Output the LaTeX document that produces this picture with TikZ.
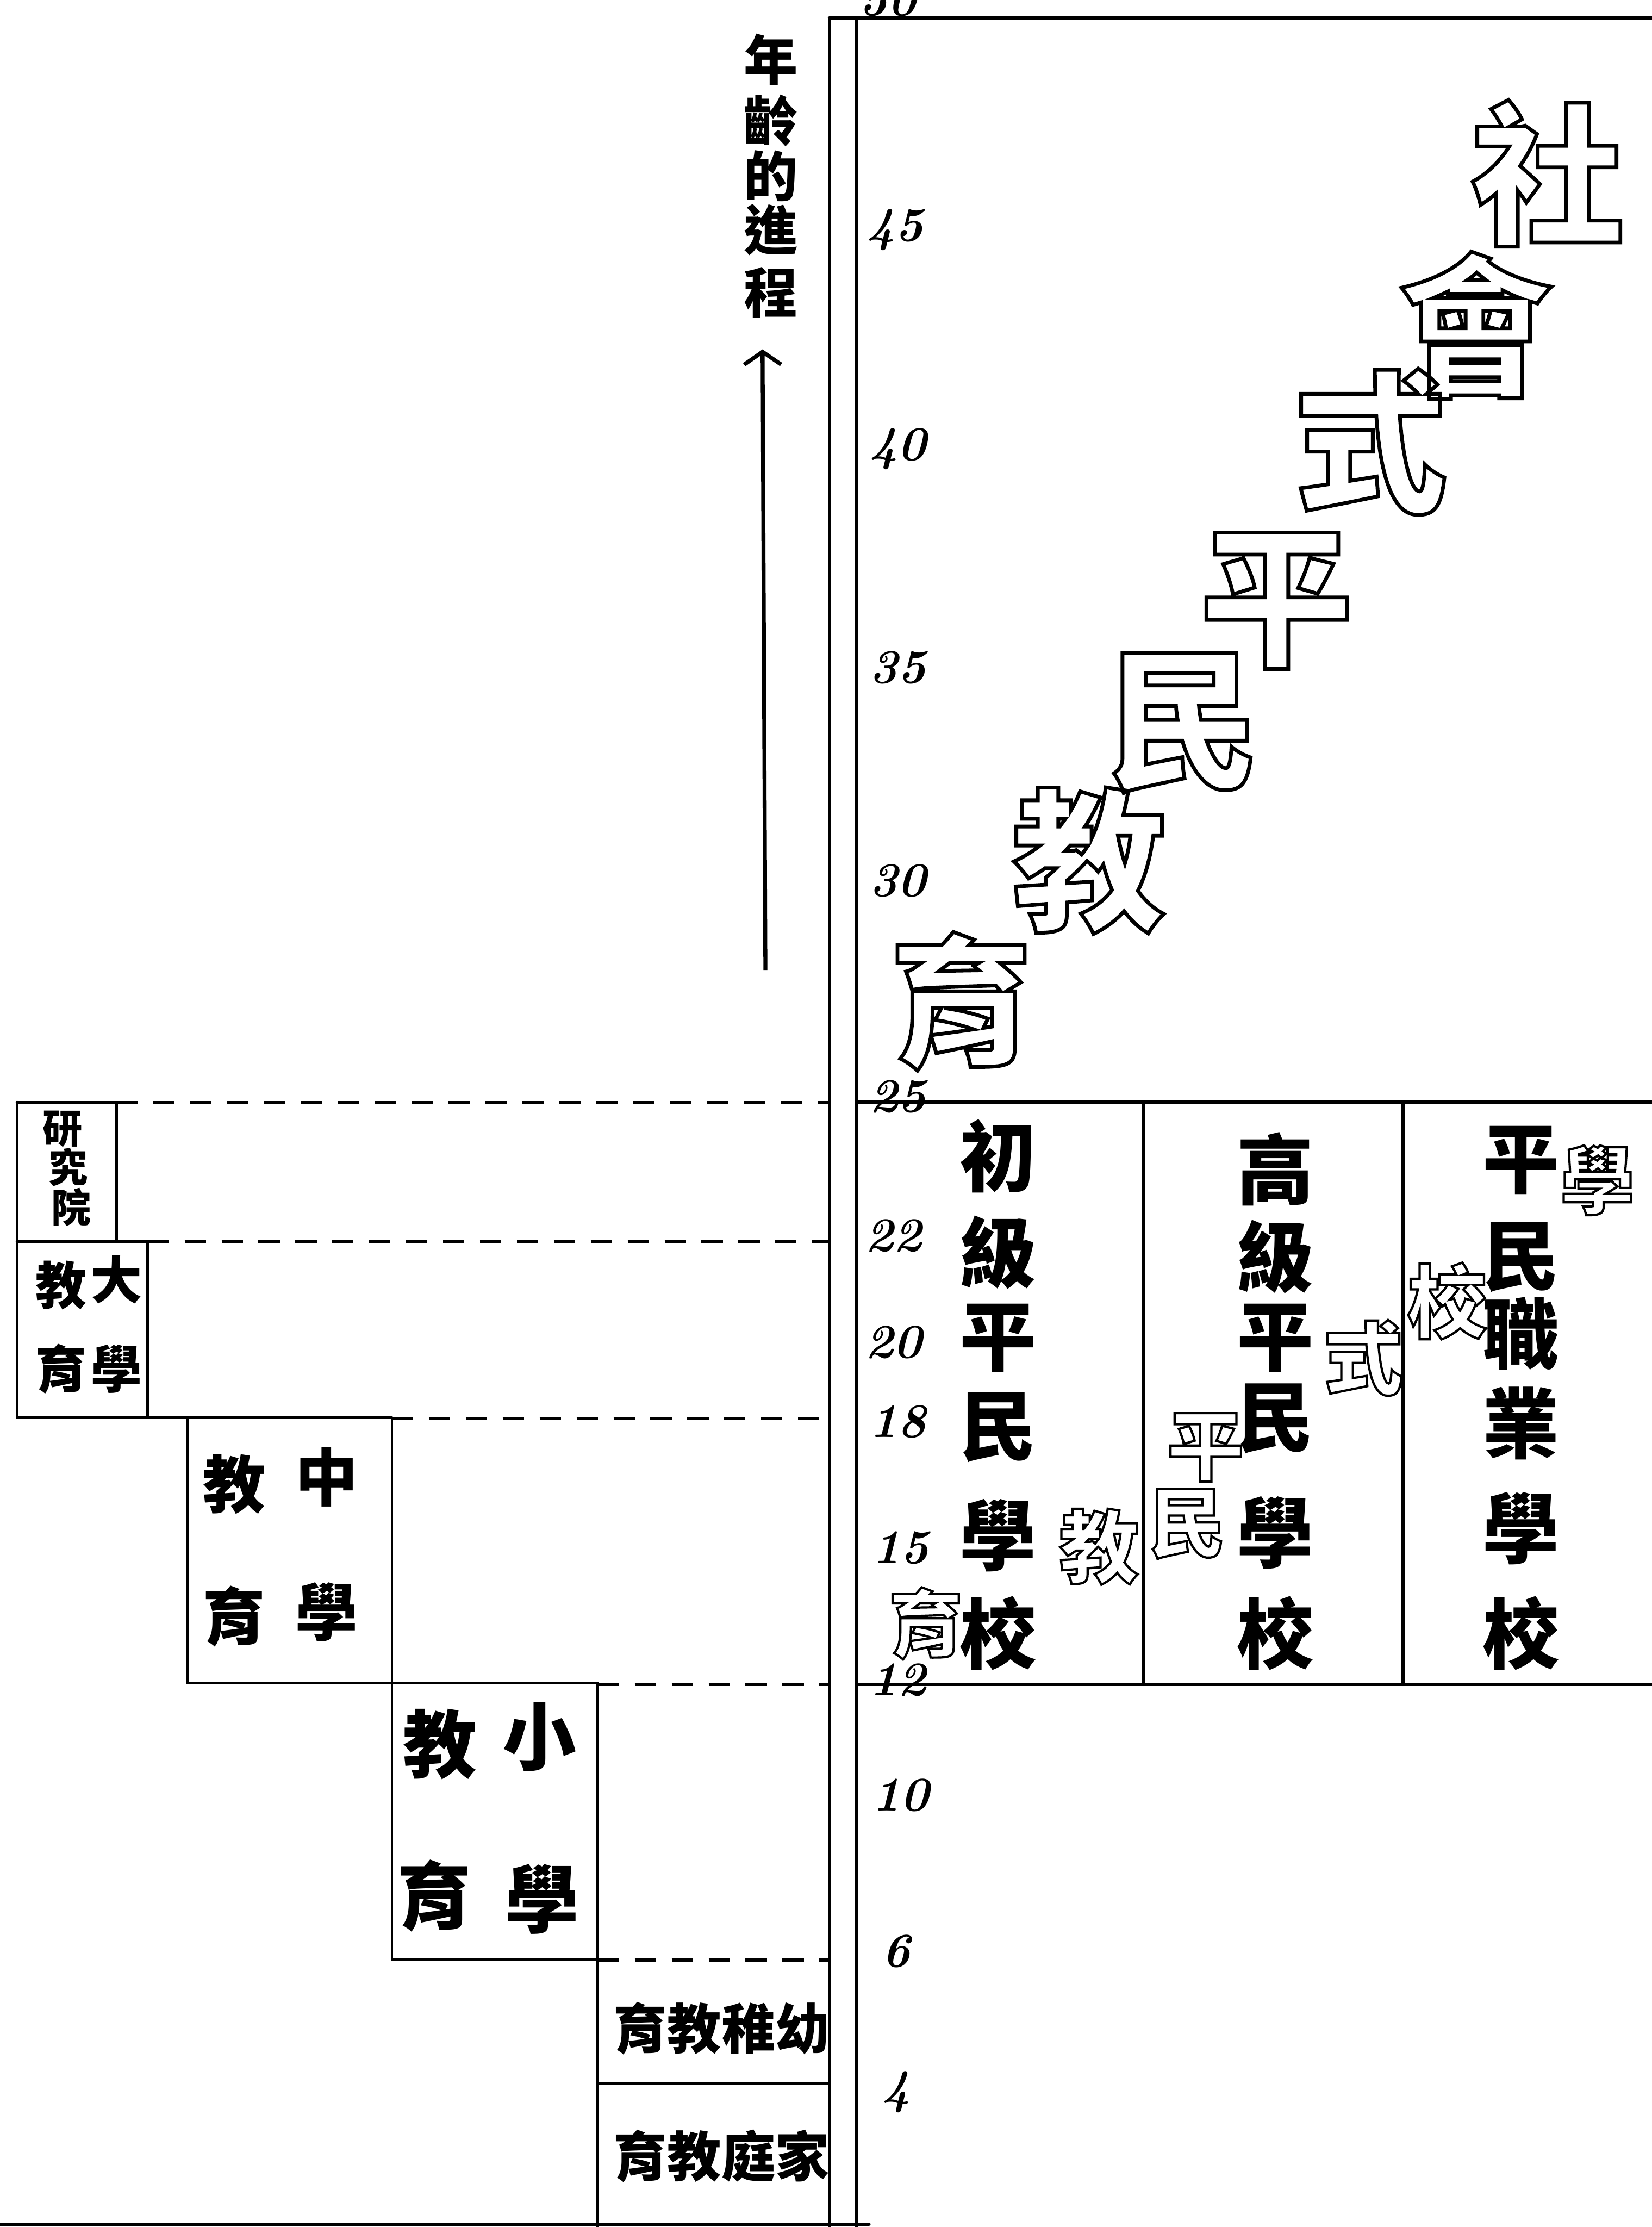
\documentclass[tikz,border=0pt]{standalone}
\usepackage{fontspec}
\newfontfamily\cjk{Noto Sans CJK TC}
\usetikzlibrary{arrows.meta}
\tikzset{
  frameline/.style={line width=2.2pt, line cap=round},
  boxline/.style={line width=1.9pt, line cap=round, line join=round},
  dashline/.style={line width=2pt, dash pattern=on 15pt off 11pt},
  num/.style={font=\fontsize{34}{34}\selectfont\bfseries\itshape, inner sep=0pt, anchor=west},
  cj/.style={font={\cjk\bfseries\fontsize{#1}{#1}\selectfont}, inner sep=0pt},
  hol/.style={font={\cjk\bfseries\fontsize{#1}{#1}\selectfont}, inner sep=0pt, text=black},
}
% outlined (hollow) character: stroke-only text rendering mode
\newcommand\hollowchar[5]{%
  \node[hol=#3] (#1) at (#2) {\special{pdf:literal direct #4 w 1 Tr}#5\special{pdf:literal direct 0 Tr}};%
}
\begin{document}
\begin{tikzpicture}[x=1pt,y=-1pt]
\useasboundingbox (0,0) rectangle (1163,1568);
\fill[white] (0,0) rectangle (1163,1568);

% ---- frame on the right
\draw[frameline] (584,12.7) -- (584,1572);
\draw[frameline] (603,12.7) -- (603,1572);
\draw[frameline] (584,12.7) -- (1170,12.7);
\draw[frameline] (603,776) -- (1170,776);
\draw[frameline] (603,1186) -- (1170,1186);
\draw[frameline] (805,776) -- (805,1186);
\draw[frameline] (988,776) -- (988,1186);
\draw[frameline] (-5,1566) -- (612,1566);

% ---- staircase of school boxes
\draw[boxline] (12,776) -- (82,776) -- (82,874);
\draw[boxline] (12,776) -- (12,998) -- (276,998) -- (276,1380) -- (421,1380);
\draw[boxline] (12,874) -- (104,874) -- (104,998);
\draw[boxline] (132,998) -- (132,1185) -- (421,1185) -- (421,1572);
\draw[boxline] (421,1467) -- (584,1467);
\draw[dashline] (82,776) -- (584,776);
\draw[dashline] (104,874) -- (584,874);
\draw[dashline] (276,999) -- (584,999);
\draw[dashline] (421,1186) -- (584,1186);
\draw[dashline] (421,1380) -- (584,1380);

% ---- age scale
\node[num] (n50) at (605,0) {50};
\node[num] (n45) at (610,162) {45};
\node[num] (n40) at (612,316) {40};
\node[num] (n35) at (612,470) {35};
\node[num] (n30) at (612,620) {30};
\node[num] (n25) at (612,772) {25};
\node[num] (n22) at (609,870) {22};
\node[num] (n20) at (609,945) {20};
\node[num] (n18) at (612,1001) {18};
\node[num] (n15) at (614,1090) {15};
\node[num] (n12) at (612,1183) {12};
\node[num] (n10) at (614,1264) {10};
\node[num] (n6) at (621,1374) {6};
\node[num] (n4) at (621,1473) {4};

% ---- age arrow and its label
\foreach \yy/\ch [count=\k] in {42/年,85/齡,124/的,162/進,206/程}
  \node[cj=38] (age\k) at (543,\yy) {\ch};
\coordinate (arrS) at (539,683);
\coordinate (arrE) at (537,246);
\draw[line width=2.8pt, -{Straight Barb[length=9pt, width=26pt]}] (arrS) -- (arrE);

% ---- left boxes text
\node[cj=28] (yj1) at (44,795) {研};
\node[cj=28] (yj2) at (48,822) {究};
\node[cj=28] (yj3) at (50,850) {院};

\node[cj=36] (dx1) at (43,905) {教};
\node[cj=36] (dx2) at (82,901) {大};
\node[cj=36] (dx3) at (43,964) {育};
\node[cj=36] (dx4) at (82,964) {學};

\node[cj=44] (zx1) at (165,1045) {教};
\node[cj=44] (zx2) at (230,1040) {中};
\node[cj=44] (zx3) at (165,1138) {育};
\node[cj=44] (zx4) at (230,1135) {學};

\node[cj=52] (xx1) at (310,1228) {教};
\node[cj=52] (xx2) at (380,1223) {小};
\node[cj=52] (xx3) at (306,1335) {育};
\node[cj=52] (xx4) at (382,1337) {學};

\node[cj=38] (yz) at (508,1428) {育教稚幼};
\node[cj=38] (jt) at (508,1518) {育教庭家};

% ---- three mass-education schools
\foreach \yy/\ch [count=\k] in {814/初,882/級,942/平,1005/民,1081/學,1150/校}
  \node[cj=54] (ca\k) at (703,\yy) {\ch};
\foreach \yy/\ch [count=\k] in {823/高,885/級,942/平,999/民,1079/學,1150/校}
  \node[cj=54] (cb\k) at (898,\yy) {\ch};
\foreach \yy/\ch [count=\k] in {817/平,885/民,939/職,1002/業,1076/學,1150/校}
  \node[cj=54] (cc\k) at (1071,\yy) {\ch};

% ---- hollow diagonal: 社會式平民教育
\hollowchar{sa}{1090,122}{108}{2.6}{社}
\hollowchar{sb}{1039,229}{108}{2.6}{會}
\hollowchar{sc}{965,311}{108}{2.6}{式}
\hollowchar{sd}{899,423}{108}{2.6}{平}
\hollowchar{se}{833,509}{108}{2.6}{民}
\hollowchar{sf}{767,606}{108}{2.6}{教}
\hollowchar{sg}{677,705}{100}{2.6}{育}

% ---- hollow diagonal: 學校式平民教育
\hollowchar{ta}{1125,831}{52}{1.6}{學}
\hollowchar{tb}{1019,916}{56}{1.6}{校}
\hollowchar{tc}{960,956}{56}{1.6}{式}
\hollowchar{td}{849,1019}{54}{1.6}{平}
\hollowchar{te}{836,1073}{54}{1.6}{民}
\hollowchar{tf}{774,1089}{56}{1.6}{教}
\hollowchar{tg}{652,1143}{52}{1.6}{育}
\end{tikzpicture}
\end{document}
